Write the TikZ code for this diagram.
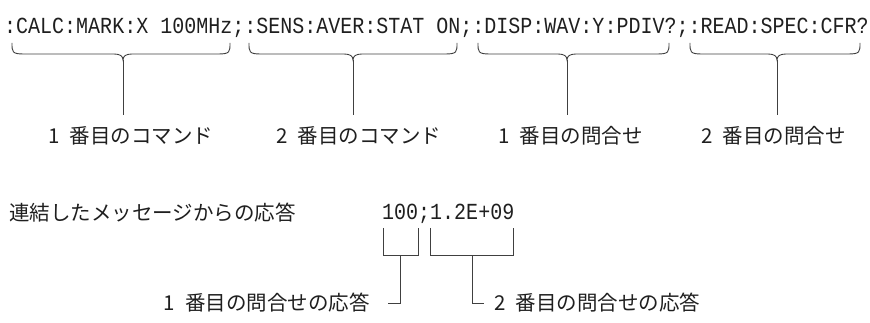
\documentclass[tikz,border=0pt]{standalone}
\usepackage{fontspec}
\newfontfamily\jpfont{Noto Sans CJK JP}
\newfontfamily\codefont[FakeStretch=0.87]{Liberation Mono}
\newcommand\cbrace[3]{%
  \draw[conn] (#1,43) .. controls (#1,52) and (#1,54) .. ({#1+12},54) -- ({#2-9},54)
    .. controls ({#2-3},54) and (#2,56) .. (#2,60)
    .. controls (#2,56) and ({#2+3},54) .. ({#2+9},54) -- ({#3-12},54)
    .. controls (#3,54) and (#3,52) .. (#3,43);}
\begin{document}
\begin{tikzpicture}[x=1pt,y=-1pt,
  jplabel/.style={font=\jpfont\fontsize{20.5}{24}\selectfont, inner sep=0pt, text=black!88},
  codetext/.style={font=\codefont\fontsize{23}{27}\selectfont, inner sep=0pt, anchor=base west, text=black!88},
  conn/.style={draw=black!75, line width=0.9pt}]
\useasboundingbox (0,0) rectangle (870,323);

% command line
\node[codetext] (cmd) at (4,34) {:CALC:MARK:X 100MHz;:SENS:AVER:STAT ON;:DISP:WAV:Y:PDIV?;:READ:SPEC:CFR?};

% braces
\cbrace{12}{123}{230}
\cbrace{249}{353}{457}
\cbrace{478}{567}{669}
\cbrace{690}{777}{860}
\coordinate (c1) at (123,60); \coordinate (e1) at (123,115);
\coordinate (c2) at (353,60); \coordinate (e2) at (353,115);
\coordinate (c3) at (567,60); \coordinate (e3) at (567,115);
\coordinate (c4) at (777,60); \coordinate (e4) at (777,115);
\draw[conn] (c1) -- (e1);
\draw[conn] (c2) -- (e2);
\draw[conn] (c3) -- (e3);
\draw[conn] (c4) -- (e4);

% labels
\node[jplabel, anchor=base west] (l1) at (48,144) {1\hspace{0.5em}番目のコマンド};
\node[jplabel, anchor=base west] (l2) at (276,144) {2\hspace{0.5em}番目のコマンド};
\node[jplabel, anchor=base west] (l3) at (498,144) {1\hspace{0.5em}番目の問合せ};
\node[jplabel, anchor=base west] (l4) at (701,144) {2\hspace{0.5em}番目の問合せ};

% response
\node[jplabel, anchor=base west] (resp) at (9,221) {連結したメッセージからの応答};
\node[codetext] (ans) at (382,220) {100;1.2E+09};

\draw[conn] (383,228) -- (383,255) -- (418,255) -- (418,228);
\draw[conn] (430,228) -- (430,255) -- (513,255) -- (513,228);
\coordinate (s1) at (400,255); \coordinate (t1) at (388,303);
\coordinate (s2) at (472,255); \coordinate (t2) at (484,303);
\draw[conn] (s1) |- (t1);
\draw[conn] (s2) |- (t2);

\node[jplabel, anchor=base east] (r1) at (370,310) {1\hspace{0.5em}番目の問合せの応答};
\node[jplabel, anchor=base west] (r2) at (494,310) {2\hspace{0.5em}番目の問合せの応答};
\end{tikzpicture}
\end{document}
